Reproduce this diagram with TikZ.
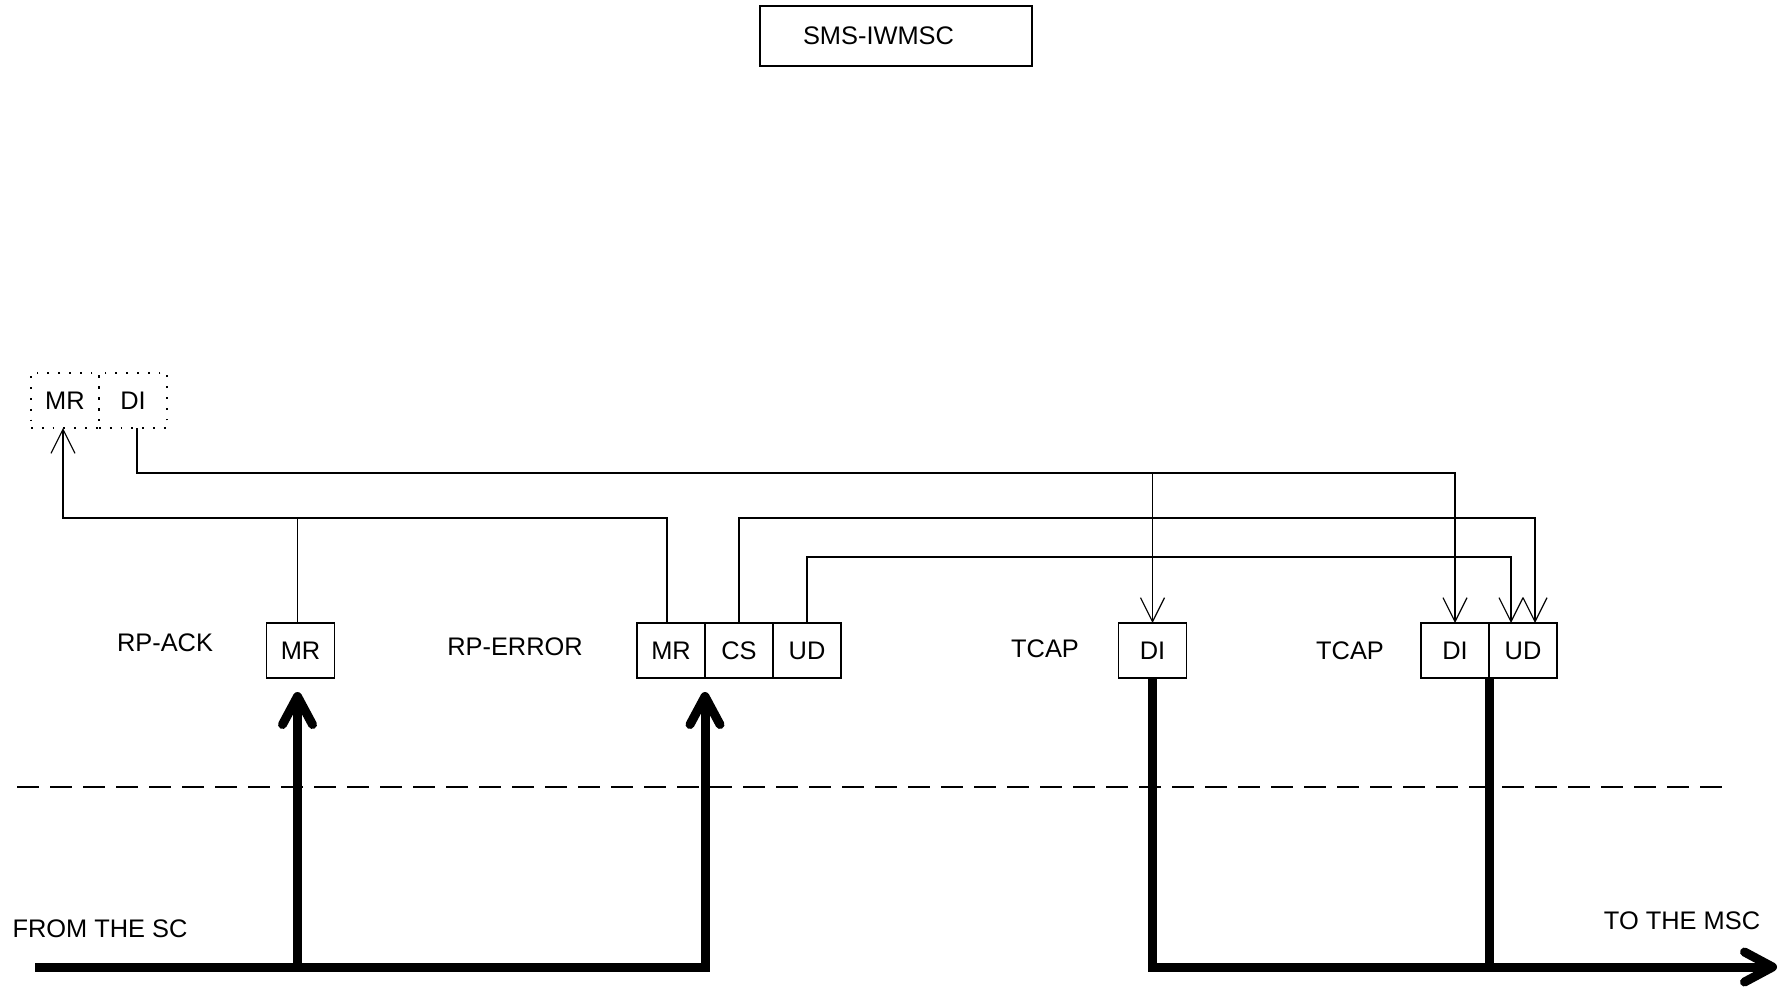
\documentclass[tikz,border=0pt]{standalone}
\usepackage{fontspec}
\setmainfont{Liberation Sans}
\usetikzlibrary{positioning,arrows.meta}

\begin{document}
\begin{tikzpicture}[
        x=0.5pt, y=-0.5pt,
        font=\fontsize{12.7}{15}\selectfont,
        field/.style={
            rectangle,
            draw=black,
            line width=0.6pt,
            minimum width=34pt,
            minimum height=27.5pt,
            inner sep=0pt,
            outer sep=0pt
        },
        ghost/.style={field, dash pattern=on 0.9pt off 4.5pt},
        sig/.style={-{Straight Barb[length=12pt, width=12pt]}, line width=0.6pt},
        tap/.style={line width=0.6pt},
        bus/.style={line width=4.5pt},
        busarrow/.style={bus, -{Straight Barb[length=14pt, width=15pt, round]}},
        sep/.style={line width=0.6pt, dash pattern=on 11pt off 5.5pt}
    ]

    \useasboundingbox (0,0) rectangle (1792,986);

    \node[
        draw=black,
        line width=0.6pt,
        minimum height=30pt,
        text width=93pt,
        inner xsep=21.5pt,
        align=left
    ] (iwmsc) at (896,36) {SMS-IWMSC};

    % fields handed back towards the SC side
    \node[ghost] (dotMR) at (65,400.5) {MR};
    \node[ghost, right=0pt of dotMR] (dotDI) {DI};

    \node[field] (ackMR) at (300.5,650.5) {MR};

    \node[field] (errMR) at (671,650.5) {MR};
    \node[field, right=0pt of errMR] (errCS) {CS};
    \node[field, right=0pt of errCS] (errUD) {UD};

    \node[field] (tcDI) at (1152.5,650.5) {DI};

    \node[field] (tc2DI) at (1455,650.5) {DI};
    \node[field, right=0pt of tc2DI] (tc2UD) {UD};

    \node (ackLbl) at (165,643) {RP-ACK};
    \node (errLbl) at (515,647) {RP-ERROR};
    \node (tcLbl) at (1045,649) {TCAP};
    \node (tc2Lbl) at (1350,651) {TCAP};
    \node (scLbl) at (100,929) {FROM THE SC};
    \node (mscLbl) at (1682,921) {TO THE MSC};

    \coordinate (diBus) at (0,473);
    \coordinate (mrBus) at (0,518);
    \coordinate (udBus) at (0,557);
    \coordinate (sepL) at (17,787);
    \coordinate (sepR) at (1722,787);
    \coordinate (scEnd) at (35,967);
    \coordinate (mscEnd) at (1777,967);

    % mapping of the parameters
    \draw[sig] ([xshift=-2pt]errMR.north) -- ([xshift=-2pt]errMR.north |- mrBus) -| ([xshift=-1pt]dotMR.south);
    \draw[tap] ([xshift=-1.5pt]ackMR.north) -- ([xshift=-1.5pt]ackMR.north |- mrBus);
    \draw[sig] ([xshift=2pt]dotDI.south) -- ([xshift=2pt]dotDI.south |- diBus) -| (tc2DI.north);
    \draw[sig] (tcDI.north |- diBus) -- (tcDI.north);
    \draw[sig] (errCS.north) -- (errCS.north |- mrBus) -| ([xshift=6pt]tc2UD.north);
    \draw[sig] (errUD.north) -- (errUD.north |- udBus) -| ([xshift=-6pt]tc2UD.north);

    \draw[sep] (sepL) -- (sepR);

    % messages
    \draw[busarrow, shorten >=7pt] (scEnd) -| (errMR.south east);
    \draw[busarrow, shorten >=7pt] ([xshift=-1.5pt]ackMR.south |- scEnd) -- ([xshift=-1.5pt]ackMR.south);
    \draw[busarrow] (tcDI.south) |- (mscEnd);
    \draw[bus] (tc2DI.south east) -- (tc2DI.south east |- mscEnd);

\end{tikzpicture}
\end{document}
